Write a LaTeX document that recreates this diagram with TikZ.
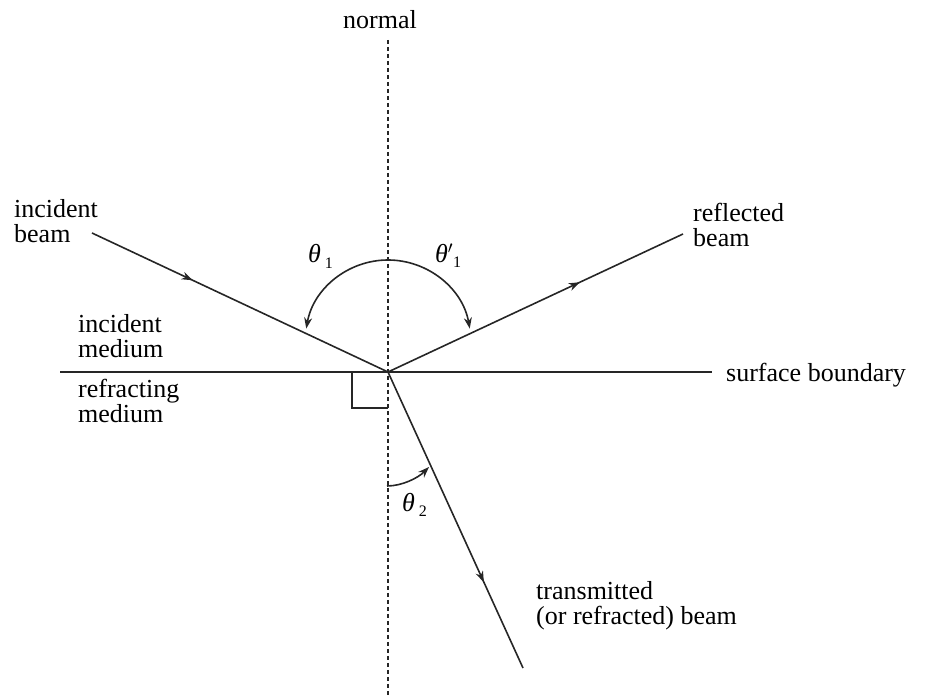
\documentclass[tikz,border=0pt]{standalone}
\usepackage{fontspec}
\setmainfont{Liberation Serif}
\usetikzlibrary{arrows.meta,decorations.markings}
\begin{document}
\begin{tikzpicture}[x=1pt,y=1pt,
  lbl/.style={inner sep=0pt, font=\fontsize{26}{25}\selectfont, align=left, anchor=base west},
  ang/.style={inner sep=0pt, font=\fontsize{26}{26}\selectfont, anchor=base west},
  ray/.style={line width=1.6pt, black!85},
  midarrow/.style={postaction={decorate}, decoration={markings,
      mark=at position #1 with {\arrow{Stealth[length=11pt,width=8pt]}}}},
  anglearc/.style={line width=1.6pt, black!85, -{Stealth[length=11pt,width=8pt]}},
  normalline/.style={line width=1.5pt, black!85, dash pattern=on 4pt off 3pt},
]
\useasboundingbox (0,0) rectangle (929,696);
% points
\coordinate (O) at (388,324);
\coordinate (A) at (92,463);
\coordinate (R) at (683,462);
\coordinate (T) at (523,28);
\coordinate (Ntop) at (388,656);
\coordinate (Nbot) at (388,0);
\coordinate (SL) at (60,324);
\coordinate (SR) at (712,324);
\coordinate (ArcTop) at (388,436);
\coordinate (T2s) at (387,210);
\coordinate (T2e) at (429,229);

% normal and surface
\draw[normalline] (Ntop) -- (Nbot);
\draw[ray] (SL) -- (SR);
% right angle square
\draw[ray] (O) -- ++(-36,0) -- ++(0,-36) -- ++(36,0);

% beams
\draw[ray, midarrow=0.34] (A) -- (O);
\draw[ray, midarrow=0.65] (O) -- (R);
\draw[ray, midarrow=0.71] (O) -- (T);

% angle arcs
\draw[anglearc] (ArcTop) arc[start angle=90, end angle=170, radius=83];
\draw[anglearc] (ArcTop) arc[start angle=90, end angle=10, radius=83];
\draw[anglearc] (T2s) .. controls (402,210) and (418,218) .. (T2e);

% labels
\node[lbl, anchor=base] (nl) at (380,667) {normal};
\node[lbl] (ib) at (14,453) {incident\\beam};
\node[lbl] (rb) at (693,449) {reflected\\beam};
\node[lbl] (im) at (78,338) {incident\\medium};
\node[lbl] (rm) at (78,273) {refracting\\medium};
\node[lbl] (sb) at (726,314) {surface boundary};
\node[lbl] (tb) at (536,71) {transmitted\\(or refracted) beam};

\node[ang] (th1) at (308,433) {\textit{θ}\hspace{4pt}\raisebox{-6pt}{\fontsize{16}{16}\selectfont 1}};
\node[ang] (th1p) at (435,433) {\textit{θ}$^{\prime}$\raisebox{-5pt}{\fontsize{16}{16}\selectfont 1}};
\node[ang] (th2) at (402,184) {\textit{θ}\hspace{4pt}\raisebox{-5pt}{\fontsize{16}{16}\selectfont 2}};
\end{tikzpicture}
\end{document}
